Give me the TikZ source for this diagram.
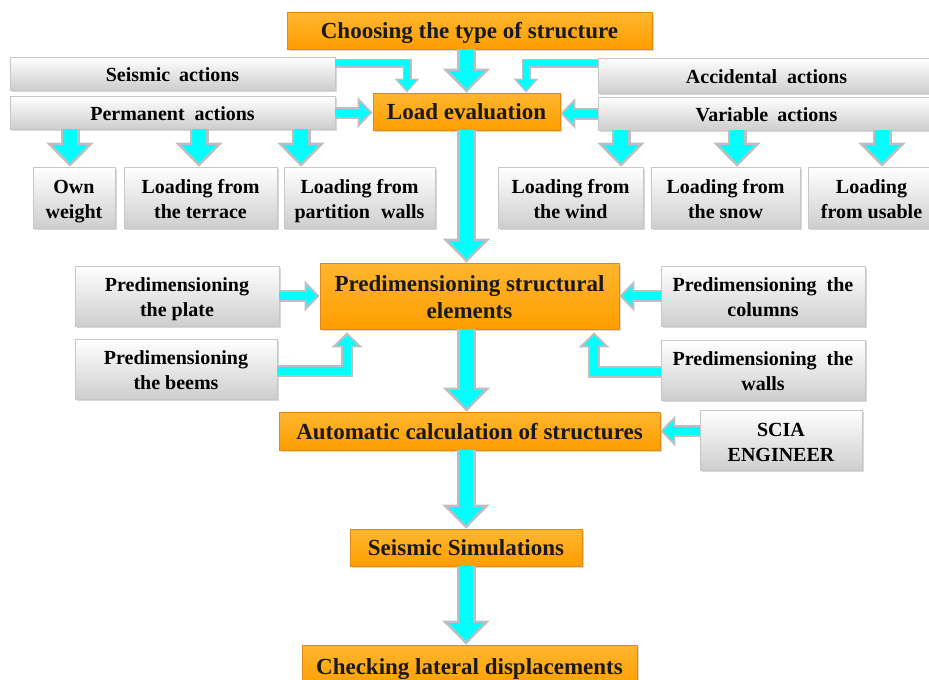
\documentclass[tikz,border=0pt]{standalone}
\usepackage{fontspec}
\setmainfont{Liberation Serif}
\usetikzlibrary{arrows.meta,shadows,calc}
\definecolor{arrcyan}{RGB}{0,255,255}
\definecolor{arrgray}{RGB}{190,190,190}
\definecolor{orangetop}{RGB}{255,182,48}
\definecolor{orangebot}{RGB}{255,158,0}
\definecolor{orangeline}{RGB}{222,138,20}
\definecolor{graybot}{RGB}{206,206,206}
\newcommand{\xsp}[1]{\hspace{#1pt}}
\begin{document}
\begin{tikzpicture}[x=1pt,y=-1pt,
  graybase/.style={rectangle, draw=black!22, line width=0.6pt, top color=white, bottom color=graybot,
    drop shadow={shadow xshift=2pt,shadow yshift=-2pt,opacity=0.3},
    font=\fontsize{20}{25}\selectfont\bfseries, align=center, inner sep=0pt, text=black},
  graybox/.style={graybase,
    execute at begin node={\rule{0pt}{19.5pt}},
    execute at end node={\rule[-4.5pt]{0pt}{4.5pt}}},
  graytwo/.style={graybase, text height=41pt, text depth=0pt},
  orangebase/.style={rectangle, draw=orangeline, line width=0.8pt, top color=orangetop, bottom color=orangebot,
    drop shadow={shadow xshift=2pt,shadow yshift=-2pt,opacity=0.3},
    font=\fontsize{23}{27}\selectfont\bfseries, align=center, inner sep=0pt, text=black!90},
  orangebox/.style={orangebase,
    execute at begin node={\rule{0pt}{21.5pt}},
    execute at end node={\rule[-5.5pt]{0pt}{5.5pt}}},
  orangetwo/.style={orangebase, text height=45.2pt, text depth=0pt},
  bigout/.style={draw=arrgray, line width=19pt, -{Triangle[width=46pt,length=24pt]}},
  bigin/.style={draw=arrcyan, line width=14pt, -{Triangle[width=34pt,length=18pt]}, shorten >=3.6pt},
  midout/.style={draw=arrgray, line width=12pt, -{Triangle[width=30pt,length=15pt]}},
  midin/.style={draw=arrcyan, line width=8pt, -{Triangle[width=20pt,length=10.2pt]}, shorten >=2.8pt},
  smallout/.style={draw=arrgray, line width=9pt, -{Triangle[width=24pt,length=14pt]}},
  smallin/.style={draw=arrcyan, line width=6pt, -{Triangle[width=17.4pt,length=10.2pt]}, shorten >=2.3pt}
]
\fill[white] (0,0) rectangle (929,680);
\useasboundingbox (0,0) rectangle (929,680);

% nodes
\node[orangebox, minimum width=365, minimum height=37] (choose) at (469.5,30.5) {Choosing the type of structure};
\node[graybox, minimum width=325, minimum height=33] (seismic) at (172.5,73.5) {Seismic\xsp{4} actions};
\node[graybox, minimum width=325, minimum height=33] (permanent) at (172.5,112.5) {Permanent\xsp{5} actions};
\node[orangebox, minimum width=187, minimum height=37] (load) at (466.5,111.5) {Load evaluation};
\node[graybox, minimum width=337, minimum height=35] (accidental) at (766.5,75.5) {Accidental\xsp{5} actions};
\node[graybox, minimum width=337, minimum height=33] (variable) at (766.5,113.5) {Variable\xsp{4} actions};

\node[graytwo, minimum width=82, minimum height=61] (own) at (74,197.5) {Own\\weight};
\node[graytwo, minimum width=153, minimum height=61] (terrace) at (200.5,197.5) {Loading from\\the terrace};
\node[graytwo, minimum width=151, minimum height=61] (partition) at (359.5,197.5) {Loading from\\partition\xsp{6} walls};
\node[graytwo, minimum width=145, minimum height=61] (wind) at (570.5,197.5) {Loading from\\the wind};
\node[graytwo, minimum width=149, minimum height=61] (snow) at (725.5,197.5) {Loading from\\the snow};
\node[graytwo, minimum width=127, minimum height=61] (usable) at (871.5,197.5) {Loading\\from usable};

\node[orangetwo, minimum width=299, minimum height=66] (pse) at (469.5,296) {Predimensioning structural\\elements};
\node[graytwo, minimum width=204, minimum height=60] (plate) at (177,296) {Predimensioning\\the plate};
\node[graytwo, minimum width=202, minimum height=60] (beems) at (176,369) {Predimensioning\\the beems};
\node[graytwo, minimum width=204, minimum height=60] (columns) at (763,296) {Predimensioning\xsp{5} the\\columns};
\node[graytwo, minimum width=204, minimum height=60] (walls) at (763,370) {Predimensioning\xsp{5} the\\walls};

\node[orangebox, minimum width=381, minimum height=38] (auto) at (469.5,431) {Automatic calculation of structures};
\node[graytwo, text height=43pt, minimum width=162, minimum height=60] (scia) at (781,440) {SCIA\\ENGINEER};
\node[orangebox, minimum width=232, minimum height=37] (seissim) at (466,547.5) {Seismic Simulations};
\node[orangebox, minimum width=335, minimum height=42] (check) at (469.5,666) {Checking lateral displacements};

% helper coordinates
\coordinate (ownT) at ($(own.north)+(-4,0)$);
\coordinate (terT) at ($(terrace.north)+(-1.5,0)$);
\coordinate (parT) at ($(partition.north)+(-58.5,0)$);
\coordinate (winT) at ($(wind.north)+(50.5,0)$);
\coordinate (snoT) at ($(snow.north)+(11.5,0)$);
\coordinate (usaT) at ($(usable.north)+(10.5,0)$);
\coordinate (sa) at ($(seismic.east)+(0,-10.5)$);
\coordinate (lt1) at ($(load.north)+(-59.5,0)$);
\coordinate (ac) at ($(accidental.west)+(0,-12.5)$);
\coordinate (lt2) at ($(load.north)+(59.5,0)$);
\coordinate (bm) at ($(beems.east)+(0,2)$);
\coordinate (pb1) at ($(pse.south)+(-122.5,3)$);
\coordinate (wl) at ($(walls.west)+(0,2)$);
\coordinate (pb2) at ($(pse.south)+(124.5,3)$);

% big vertical arrows
\foreach \p in {{(load.north |- choose.south) -- (load.north)},
                {(load.south) -- (load.south |- pse.north)},
                {(load.south |- pse.south) -- (load.south |- auto.north)},
                {(seissim.north |- auto.south) -- (seissim.north)},
                {(seissim.south) -- (seissim.south |- check.north)}}{
  \draw[bigout] \p; \draw[bigin] \p;
}
% down arrows to load cases
\foreach \t/\s in {ownT/permanent, terT/permanent, parT/permanent, winT/variable, snoT/variable, usaT/variable}{
  \draw[bigout] (\t |- \s.south) -- (\t);
  \draw[bigin] (\t |- \s.south) -- (\t);
}
% horizontal arrows
\foreach \p in {{(permanent.east) -- (load.west |- permanent.east)},
                {(variable.west) -- (load.east |- variable.west)},
                {(plate.east) -- (pse.west |- plate.east)},
                {(columns.west) -- (pse.east |- columns.west)},
                {(scia.west |- auto.east) -- (auto.east)},
                {(bm) -| (pb1)},
                {(wl) -| (pb2)}}{
  \draw[midout] \p; \draw[midin] \p;
}
% small bent arrows
\draw[smallout] (sa) -| (lt1); \draw[smallin] (sa) -| (lt1);
\draw[smallout] (ac) -| (lt2); \draw[smallin] (ac) -| (lt2);
\end{tikzpicture}
\end{document}
